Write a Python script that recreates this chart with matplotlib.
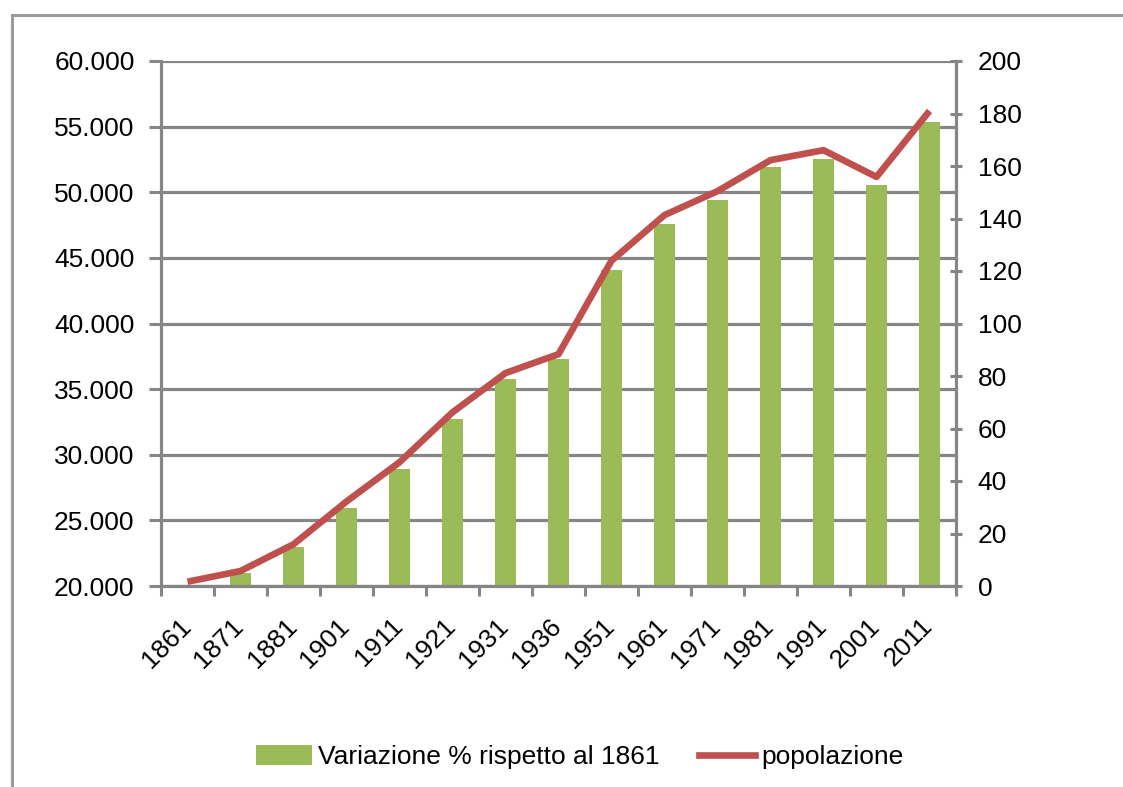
import matplotlib
matplotlib.use("Agg")
import matplotlib.pyplot as plt
import matplotlib.transforms as mtransforms
from matplotlib.patches import Rectangle, Patch
from matplotlib.lines import Line2D
import numpy as np

plt.rcParams['font.family'] = ['Liberation Sans', 'DejaVu Sans']

anni = ["1861", "1871", "1881", "1901", "1911", "1921", "1931", "1936",
        "1951", "1961", "1971", "1981", "1991", "2001", "2011"]
variazione = [0.0, 4.8, 14.8, 29.9, 44.7, 63.7, 78.9, 86.5,
              120.2, 137.9, 147.0, 159.5, 162.6, 152.7, 176.9]
popolazione = [20326, 21141, 23179, 26440, 29429, 33234, 36223, 37663,
               44783, 48261, 50082, 52446, 53206, 51168, 56196]
left_ticks = [20000, 25000, 30000, 35000, 40000, 45000, 50000, 55000, 60000]
left_labels = ["20.000", "25.000", "30.000", "35.000", "40.000",
               "45.000", "50.000", "55.000", "60.000"]
right_ticks = [0, 20, 40, 60, 80, 100, 120, 140, 160, 180, 200]

GRAY = "#868686"
GREEN = "#9BBB59"
RED = "#C0504D"
FS = 19

W, H = 1123, 787
fig = plt.figure(figsize=(W / 100, H / 100), dpi=100)
fig.patch.set_facecolor("white")

# outer chart border (cut off at right and bottom)
fig.patches.append(Rectangle((12 / W, -0.1), 1.2, (H - 15) / H + 0.1,
                             transform=fig.transFigure, fill=False,
                             edgecolor="#9a9a9a", linewidth=2.2, zorder=0))

ax = fig.add_axes([161 / W, (H - 586) / H, (956 - 161) / W, (586 - 61) / H])
ax2 = ax.twinx()
x = np.arange(len(anni))

# bars on the right-hand scale (host axes, so they sit under the line)
ax.bar(x, variazione, width=0.4, color=GREEN, zorder=2)
ax.set_ylim(0, 200)
ax.set_xlim(-0.5, len(anni) - 0.5)
ax.yaxis.set_ticks_position('right')
ax.set_yticks(right_ticks)
ax.set_yticklabels([str(v) for v in right_ticks])
ax.tick_params(axis='y', which='major', direction='inout', length=9, width=2.2,
               color=GRAY, labelsize=FS, pad=11, left=False, labelleft=False,
               right=True, labelright=True)

# population line on the left-hand scale
ax2.plot(x, popolazione, color=RED, linewidth=4.8, solid_capstyle='butt', zorder=3)
ax2.set_ylim(20000, 60000)
ax2.yaxis.set_ticks_position('left')
ax2.set_yticks(left_ticks)
ax2.set_yticklabels(left_labels)
ax2.tick_params(axis='y', direction='out', length=9, width=2.2, color=GRAY,
                labelsize=FS, pad=10, right=False, labelright=False,
                left=True, labelleft=True)
for side in ["top", "right", "bottom", "left"]:
    ax2.spines[side].set_visible(False)

# horizontal gridlines follow the left (population) scale, drawn under the bars
grid_tr = mtransforms.blended_transform_factory(ax.transAxes, ax2.transData)
ax.hlines(left_ticks, 0, 1, transform=grid_tr, colors=GRAY, linewidth=2.3, zorder=1)

# x ticks: marks at category boundaries, labels at centres
ax.set_xticks(np.arange(len(anni) + 1) - 0.5)
ax.set_xticklabels([])
ax.tick_params(axis='x', which='major', direction='out', length=7, width=2.2, color=GRAY)
ax.set_xticks(x, minor=True)
ax.set_xticklabels(anni, minor=True, rotation=45, ha='right', va='top',
                   rotation_mode='anchor', fontsize=FS)
ax.tick_params(axis='x', which='minor', length=0, pad=20)
offset = mtransforms.ScaledTranslation(-9 / 100, 0, fig.dpi_scale_trans)
for lab in ax.get_xticklabels(minor=True):
    lab.set_transform(lab.get_transform() + offset)

ax.spines["top"].set_visible(False)
for side in ["left", "right", "bottom"]:
    ax.spines[side].set_color(GRAY)
    ax.spines[side].set_linewidth(2.3)

handles = [Patch(facecolor=GREEN, edgecolor="none"),
           Line2D([0], [0], color=RED, linewidth=4.8)]
fig.legend(handles, ["Variazione % rispetto al 1861", "popolazione"],
           loc='center', bbox_to_anchor=(580 / W, (H - 757) / H), ncol=2,
           frameon=False, fontsize=FS, handlelength=2.1, handleheight=0.8,
           columnspacing=1.5, handletextpad=0.25)

fig.savefig("out.png", dpi=100, facecolor="white")
